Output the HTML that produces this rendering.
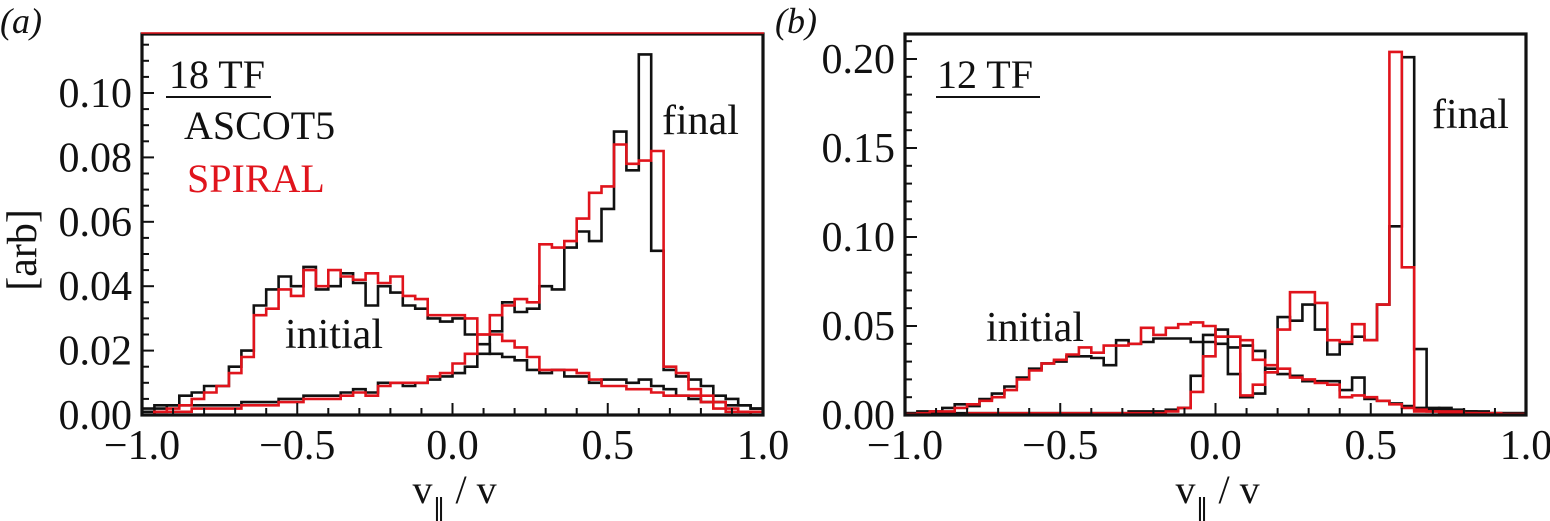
<!DOCTYPE html>
<html><head><meta charset="utf-8">
<style>
html,body{margin:0;padding:0;background:#fff;}
svg{display:block;font-family:"Liberation Serif",serif;}
</style></head>
<body>
<svg id="fig" width="1550" height="521" viewBox="0 0 1550 521" xmlns="http://www.w3.org/2000/svg">
</svg>
<script>
// ---------- data: 50 bins of width 0.04 from -1 to 1 ----------
const binStart = -1.0;
const binWidth = 0.04;
// panel (a) 18 TF
const aAscotInitial = [0.001,0.002,0.003,0.006,0.007,0.009,0.009,0.015,0.020,0.034,0.039,0.043,0.040,0.046,0.039,0.040,0.044,0.041,0.034,0.040,0.038,0.034,0.033,0.030,0.029,0.030,0.025,0.022,0.019,0.018,0.017,0.014,0.013,0.014,0.012,0.012,0.010,0.011,0.011,0.010,0.011,0.009,0.008,0.006,0.005,0.004,0.004,0.003,0.003,0.002];
const aSpiralInitial = [0.000,0.001,0.002,0.003,0.005,0.007,0.009,0.013,0.018,0.031,0.033,0.039,0.037,0.045,0.040,0.045,0.043,0.042,0.044,0.041,0.043,0.037,0.036,0.031,0.031,0.031,0.030,0.025,0.025,0.023,0.021,0.018,0.014,0.014,0.014,0.013,0.011,0.009,0.009,0.008,0.008,0.007,0.006,0.006,0.006,0.004,0.002,0.001,0.001,0.000];
const aAscotFinal = [0.002,0.003,0.003,0.003,0.003,0.003,0.003,0.003,0.004,0.004,0.004,0.005,0.005,0.006,0.006,0.006,0.007,0.008,0.007,0.010,0.010,0.009,0.010,0.011,0.012,0.013,0.015,0.019,0.026,0.035,0.032,0.033,0.040,0.039,0.052,0.057,0.054,0.064,0.088,0.076,0.112,0.051,0.014,0.012,0.011,0.009,0.006,0.005,0.003,0.002];
const aSpiralFinal = [0.000,0.001,0.001,0.001,0.002,0.002,0.002,0.002,0.003,0.003,0.003,0.004,0.004,0.005,0.005,0.005,0.006,0.007,0.006,0.009,0.010,0.010,0.010,0.012,0.013,0.016,0.019,0.025,0.031,0.034,0.036,0.035,0.053,0.052,0.054,0.061,0.069,0.071,0.084,0.078,0.079,0.082,0.015,0.013,0.008,0.006,0.004,0.002,0.001,0.001];
// panel (b) 12 TF
const bAscotInitial = [0.001,0.002,0.002,0.004,0.006,0.005,0.009,0.012,0.016,0.021,0.026,0.029,0.030,0.033,0.033,0.032,0.028,0.042,0.040,0.041,0.043,0.043,0.043,0.041,0.041,0.040,0.038,0.039,0.036,0.024,0.023,0.022,0.019,0.019,0.019,0.014,0.021,0.009,0.008,0.0065,0.005,0.004,0.003,0.004,0.003,0.002,0.002,0.001,0.001,0.001];
const bSpiralInitial = [0.0005,0.001,0.002,0.002,0.004,0.006,0.008,0.010,0.014,0.020,0.025,0.029,0.031,0.034,0.038,0.035,0.039,0.039,0.040,0.049,0.045,0.049,0.051,0.052,0.050,0.044,0.044,0.042,0.031,0.028,0.026,0.021,0.020,0.018,0.017,0.010,0.011,0.010,0.008,0.006,0.004,0.003,0.002,0.002,0.002,0.001,0.001,0.001,0.0005,0.0005];
const bAscotFinal = [0.001,0.001,0.001,0.001,0.001,0.001,0.001,0.001,0.001,0.001,0.001,0.001,0.001,0.001,0.001,0.001,0.001,0.001,0.002,0.002,0.002,0.003,0.004,0.022,0.045,0.048,0.023,0.010,0.012,0.026,0.055,0.053,0.062,0.048,0.034,0.040,0.044,0.042,0.062,0.106,0.201,0.037,0.004,0.003,0.002,0.002,0.001,0.001,0.001,0.001];
const bSpiralFinal = [0.000,0.000,0.000,0.000,0.000,0.001,0.001,0.001,0.001,0.001,0.001,0.001,0.001,0.001,0.001,0.001,0.001,0.001,0.001,0.001,0.001,0.002,0.004,0.013,0.033,0.044,0.044,0.011,0.017,0.024,0.048,0.069,0.069,0.063,0.042,0.041,0.051,0.042,0.062,0.204,0.083,0.002,0.002,0.001,0.001,0.001,0.000,0.000,0.000,0.000];
const xTicks = [-1.0,-0.5,0.0,0.5,1.0];
const xTickLabels = ["\u22121.0","\u22120.5","0.0","0.5","1.0"];
const aYTicks = [0.00,0.02,0.04,0.06,0.08,0.10];
const aYTickLabels = ["0.00","0.02","0.04","0.06","0.08","0.10"];
const bYTicks = [0.00,0.05,0.10,0.15,0.20];
const bYTickLabels = ["0.00","0.05","0.10","0.15","0.20"];

const NS = "http://www.w3.org/2000/svg";
const svg = document.getElementById('fig');
function mk(tag, attrs, parent){
  const e = document.createElementNS(NS, tag);
  for (const k in attrs) e.setAttribute(k, attrs[k]);
  (parent||svg).appendChild(e);
  return e;
}
function txt(s, attrs, name, parent){
  const t = mk('text', attrs, parent);
  t.textContent = s;
  
  
  return t;
}

function panel(cfg){
  const g = mk('g', {});
  
  
  const L = cfg.left, R = cfg.right, T = 34, B = 415;
  const xs = v => L + (v + 1) / 2 * (R - L);
  const ys = v => B - (v - 0) / cfg.yMax * (B - cfg.yMaxPx);
  cfg.series.forEach(s => {
    let d = '';
    s.data.forEach((v, i) => {
      const x0 = xs(binStart + i * binWidth), x1 = xs(binStart + (i + 1) * binWidth);
      const y = ys(v);
      d += (i === 0 ? 'M' : 'L') + x0.toFixed(1) + ',' + y.toFixed(1) + 'L' + x1.toFixed(1) + ',' + y.toFixed(1);
    });
    const p = mk('path', {d: d, fill: 'none', stroke: s.color, 'stroke-width': 2.6, 'stroke-linejoin': 'miter'}, g);
    
    
  });
  const fr = mk('rect', {x: L, y: T, width: R - L, height: B - T, fill: 'none', stroke: '#111', 'stroke-width': 3.2}, g);
  
  
  if (cfg.redTop) {
    const rl = mk('line', {x1: L - 1, x2: R + 1, y1: T - 1, y2: T - 1, stroke: '#e0141c', 'stroke-width': 1.5}, g);
    
    
  }
  for (let k = -10; k <= 10; k++) {
    const v = k / 10, x = xs(v);
    const major = (k % 5 === 0);
    const tk = mk('line', {x1: x, x2: x, y1: B, y2: B - (major ? 12 : 7), stroke: '#111', 'stroke-width': 2}, g);
    
    
  }
  xTicks.forEach((v, i) => {
    txt(xTickLabels[i], {x: xs(v), y: 459, 'font-size': 42, 'text-anchor': 'middle', fill: '#111'}, 'x-tick-label', g);
  });
  const nMinor = Math.round(cfg.yTop / cfg.minor);
  for (let k = 0; k <= nMinor; k++) {
    const v = k * cfg.minor, y = ys(v);
    if (y < T) break;
    const major = cfg.yTicks.some(t => Math.abs(t - v) < 1e-9);
    const tk = mk('line', {x1: L, x2: L + (major ? 12 : 7), y1: y, y2: y, stroke: '#111', 'stroke-width': 2}, g);
    
    
  }
  cfg.yTicks.forEach((v, i) => {
    txt(cfg.yLabels[i], {x: L - 10, y: ys(v) + 14, 'font-size': 42, 'text-anchor': 'end', fill: '#111'}, 'y-tick-label', g);
  });
  const xt = txt('v', {x: (L + R) / 2 - 40, y: 503, 'font-size': 40, fill: '#111'}, 'x-axis-title', g);
  const sub = mk('tspan', {dy: 14, 'font-size': 26}, xt); sub.textContent = '\u2225';
  const rest = mk('tspan', {dy: -14, 'font-size': 40}, xt); rest.textContent = ' / v';
  return {g, xs, ys};
}

panel({name: 'panel-a-18tf', left: 142, right: 763, yMax: 0.10, yMaxPx: 93, yTop: 0.12, minor: 0.005,
  yTicks: aYTicks, yLabels: aYTickLabels, redTop: true,
  series: [
    {name: 'ascot5-initial-line', color: '#111', data: aAscotInitial},
    {name: 'ascot5-final-line', color: '#111', data: aAscotFinal},
    {name: 'spiral-initial-line', color: '#e0141c', data: aSpiralInitial},
    {name: 'spiral-final-line', color: '#e0141c', data: aSpiralFinal}
  ]});
panel({name: 'panel-b-12tf', left: 905, right: 1526, yMax: 0.20, yMaxPx: 59, yTop: 0.22, minor: 0.01,
  yTicks: bYTicks, yLabels: bYTickLabels, redTop: false,
  series: [
    {name: 'ascot5-initial-line', color: '#111', data: bAscotInitial},
    {name: 'ascot5-final-line', color: '#111', data: bAscotFinal},
    {name: 'spiral-initial-line', color: '#e0141c', data: bSpiralInitial},
    {name: 'spiral-final-line', color: '#e0141c', data: bSpiralFinal}
  ]});

txt('(a)', {x: 0, y: 33, 'font-size': 36, 'font-style': 'italic', fill: '#111'}, 'panel-a-label');
txt('(b)', {x: 775, y: 33, 'font-size': 36, 'font-style': 'italic', fill: '#111'}, 'panel-b-label');
txt('18 TF', {x: 169, y: 88, 'font-size': 40, fill: '#111'}, 'panel-a-title');
const u1 = mk('line', {x1: 166, x2: 271, y1: 97, y2: 97, stroke: '#111', 'stroke-width': 2});


txt('ASCOT5', {x: 184, y: 139, 'font-size': 40, fill: '#111'}, 'legend-ascot5');
txt('SPIRAL', {x: 187, y: 192, 'font-size': 40, fill: '#e0141c'}, 'legend-spiral');
txt('final', {x: 662, y: 134, 'font-size': 42, fill: '#111'}, 'final-annotation');
txt('initial', {x: 285, y: 348, 'font-size': 42, fill: '#111'}, 'initial-annotation');
txt('12 TF', {x: 937, y: 88, 'font-size': 40, fill: '#111'}, 'panel-b-title');
const u2 = mk('line', {x1: 936, x2: 1040, y1: 97, y2: 97, stroke: '#111', 'stroke-width': 2});


txt('final', {x: 1432, y: 128, 'font-size': 42, fill: '#111'}, 'final-annotation');
txt('initial', {x: 986, y: 341, 'font-size': 42, fill: '#111'}, 'initial-annotation');
txt('[arb]', {x: 0, y: 0, 'font-size': 42, fill: '#111', transform: 'translate(36,250) rotate(-90)', 'text-anchor': 'middle'}, 'y-axis-title');
</script>
</body></html>
